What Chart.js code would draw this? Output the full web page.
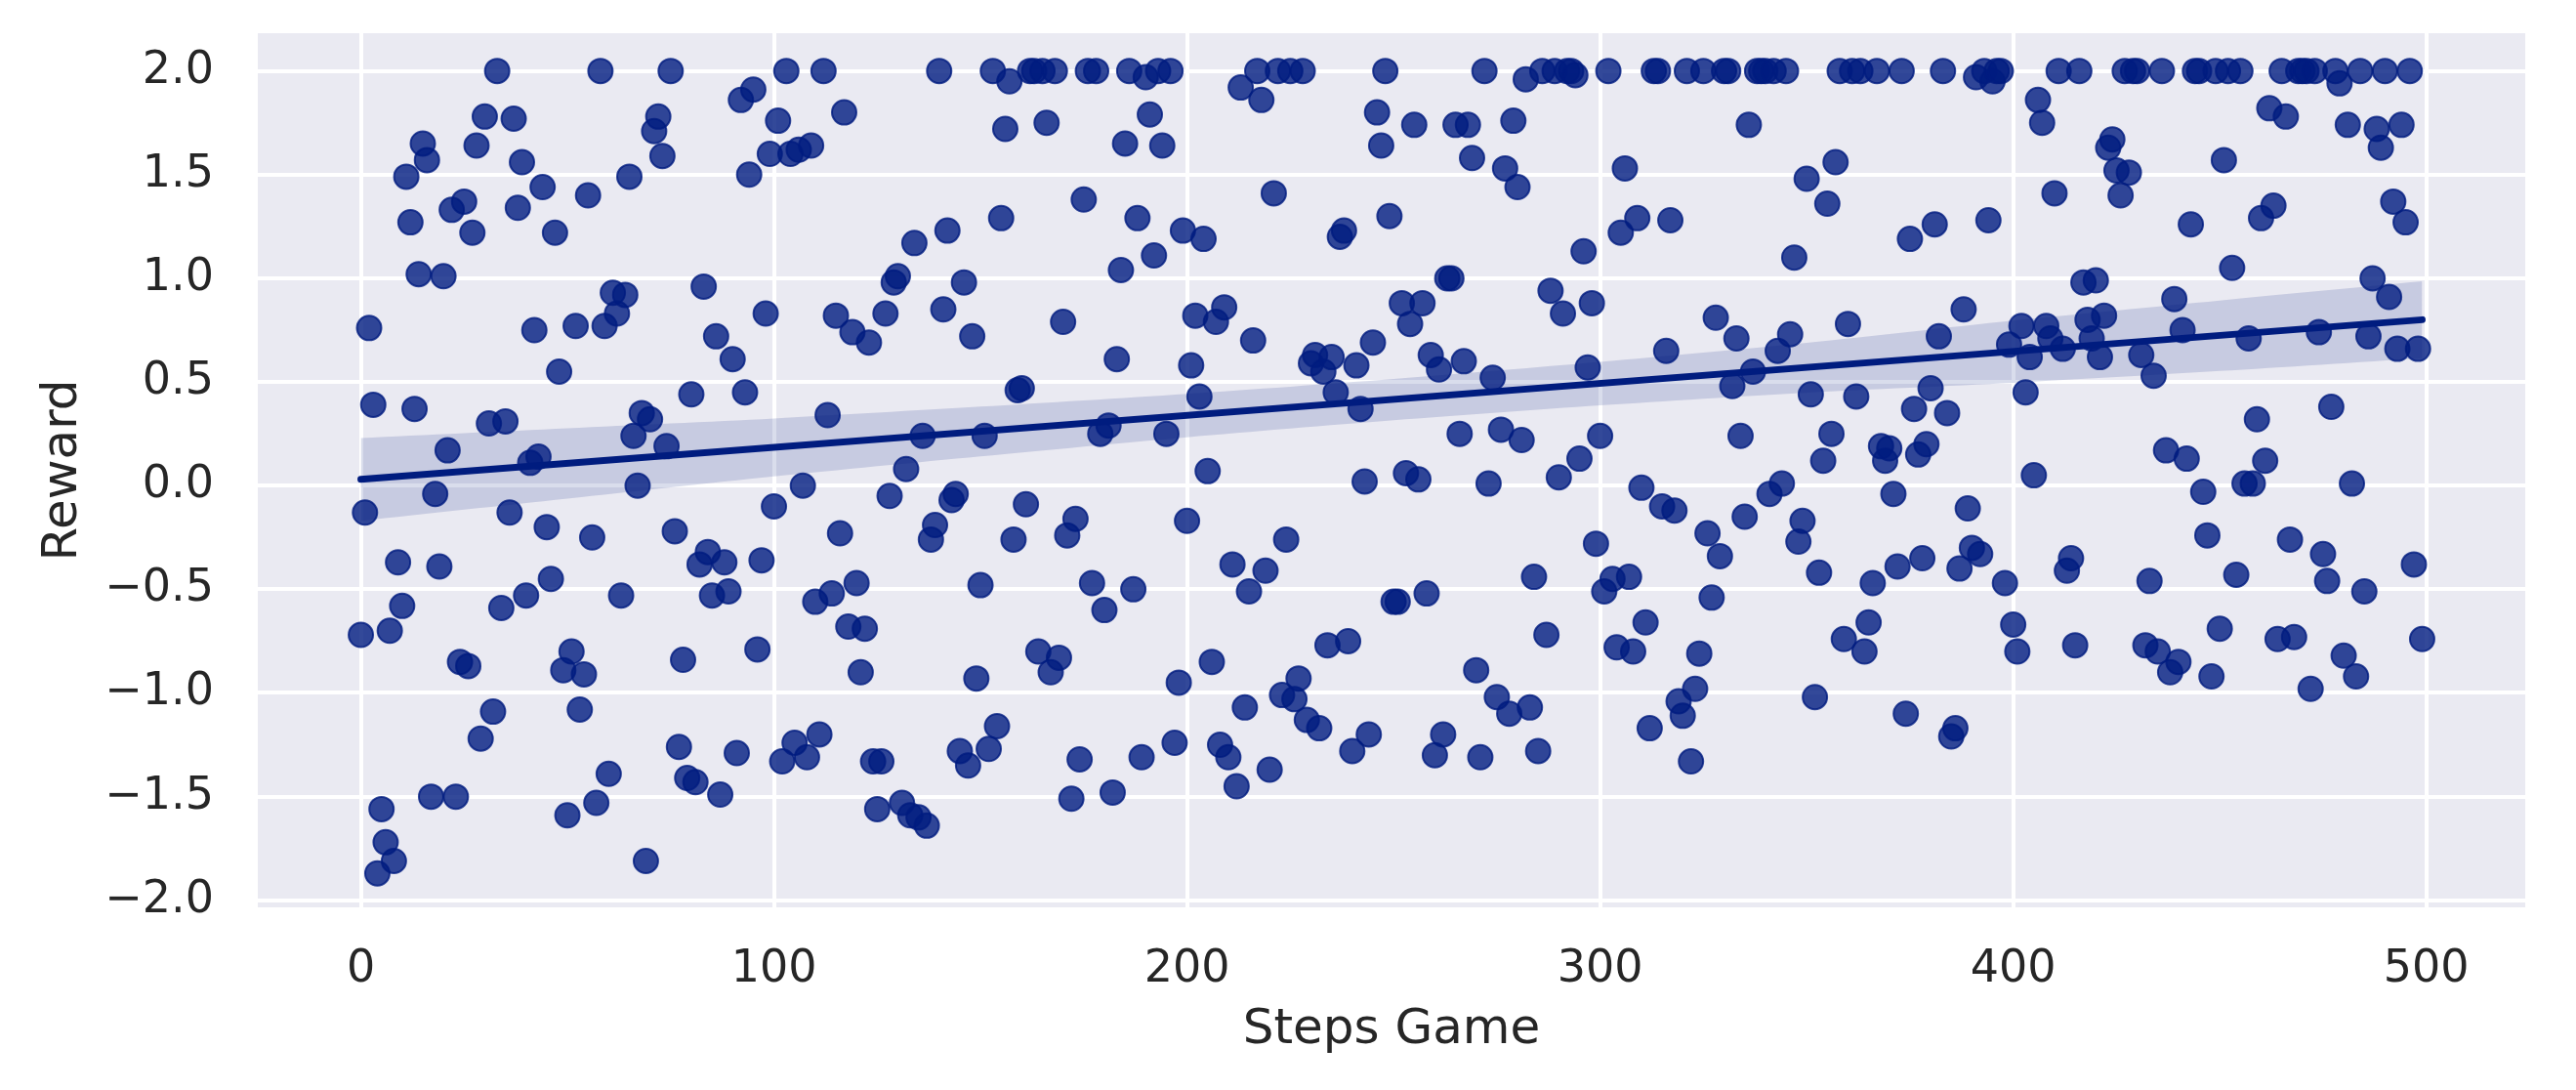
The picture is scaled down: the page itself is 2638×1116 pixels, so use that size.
<!DOCTYPE html>
<html>
<head>
<meta charset="utf-8">
<script src="https://cdn.jsdelivr.net/npm/chart.js@4/dist/chart.umd.min.js"></script>
<style>
    html, body { margin: 0; padding: 0; background: #ffffff; }
    canvas { display: block; }
</style>
</head>
<body>
<canvas id="regChart" width="2638" height="1116"></canvas>
<script>
// reward per game step (step = index)
var rewards = [
    -0.72, -0.13, 0.76, 0.39, -1.87, -1.56, -1.72, -0.70, -1.81, -0.37,
    -0.58, 1.49, 1.27, 0.37, 1.02, 1.65, 1.57, -1.50, -0.04, -0.39,
    1.01, 0.17, 1.33, -1.50, -0.85, 1.37, -0.87, 1.22, 1.64, -1.22,
    1.78, 0.30, -1.09, 2.00, -0.59, 0.31, -0.13, 1.77, 1.34, 1.56,
    -0.53, 0.11, 0.75, 0.14, 1.44, -0.20, -0.45, 1.22, 0.55, -0.89,
    -1.59, -0.80, 0.77, -1.08, -0.91, 1.40, -0.25, -1.53, 2.00, 0.77,
    -1.39, 0.93, 0.83, -0.53, 0.92, 1.49, 0.24, 0.00, 0.35, -1.81,
    0.32, 1.71, 1.78, 1.59, 0.19, 2.00, -0.22, -1.26, -0.84, -1.41,
    0.44, -1.43, -0.38, 0.96, -0.32, -0.53, 0.72, -1.49, -0.37, -0.51,
    0.61, -1.29, 1.86, 0.45, 1.50, 1.91, -0.79, -0.36, 0.83, 1.60,
    -0.10, 1.76, -1.33, 2.00, 1.60, -1.24, 1.62, 0.00, -1.31, 1.64,
    -0.56, -1.20, 2.00, 0.34, -0.52, 0.82, -0.23, 1.80, -0.68, 0.74,
    -0.47, -0.90, -0.69, 0.69, -1.33, -1.56, -1.33, 0.83, -0.05, 0.98,
    1.01, -1.53, 0.08, -1.59, 1.17, -1.60, 0.24, -1.64, -0.26, -0.19,
    2.00, 0.85, 1.23, -0.07, -0.04, -1.28, 0.98, -1.35, 0.72, -0.93,
    -0.48, 0.24, -1.27, 2.00, -1.16, 1.29, 1.72, 1.95, -0.26, 0.46,
    0.47, -0.09, 2.00, 2.00, -0.80, 2.00, 1.75, -0.90, 2.00, -0.83,
    0.79, -0.24, -1.51, -0.16, -1.32, 1.38, 2.00, -0.47, 2.00, 0.25,
    -0.60, 0.29, -1.48, 0.61, 1.04, 1.65, 2.00, -0.50, 1.29, -1.31,
    1.97, 1.79, 1.11, 2.00, 1.64, 0.25, 2.00, -1.24, -0.95, 1.23,
    -0.17, 0.58, 0.82, 0.43, 1.19, 0.07, -0.85, 0.79, -1.25, 0.86,
    -1.31, -0.38, -1.45, 1.92, -1.07, -0.51, 0.70, 2.00, 1.86, -0.41,
    -1.37, 1.41, 2.00, -1.01, -0.26, 2.00, -1.03, -0.93, 2.00, -1.13,
    0.59, 0.63, -1.17, 0.55, -0.77, 0.62, 0.45, 1.20, 1.23, -0.75,
    -1.28, 0.58, 0.37, 0.02, -1.20, 0.69, 1.80, 1.64, 2.00, 1.30,
    -0.56, -0.56, 0.88, 0.06, 0.78, 1.74, 0.03, 0.88, -0.52, 0.63,
    -1.30, 0.56, -1.20, 1.00, 1.00, 1.74, 0.25, 0.60, 1.74, 1.58,
    -0.89, -1.31, 2.00, 0.01, 0.52, -1.02, 0.27, 1.53, -1.10, 1.76,
    1.44, 0.22, 1.96, -1.07, -0.44, -1.28, 2.00, -0.72, 0.94, 2.00,
    0.04, 0.83, 2.00, 2.00, 1.98, 0.13, 1.13, 0.57, 0.88, -0.28,
    0.24, -0.51, 2.00, -0.45, -0.78, 1.22, 1.53, -0.44, -0.80, 1.29,
    -0.01, -0.66, -1.17, 2.00, 2.00, -0.10, 0.65, 1.28, -0.12, -1.04,
    -1.11, 2.00, -1.33, -0.98, -0.81, 2.00, -0.23, -0.54, 0.81, -0.34,
    2.00, 2.00, 0.48, 0.71, 0.24, -0.15, 1.74, 0.55, 2.00, 2.00,
    2.00, -0.04, 2.00, 0.65, 0.01, 2.00, 0.73, 1.10, -0.27, -0.17,
    1.48, 0.44, -1.02, -0.42, 0.12, 1.36, 0.25, 1.56, 2.00, -0.74,
    0.78, 2.00, 0.43, 2.00, -0.80, -0.66, -0.47, 2.00, 0.19, 0.12,
    0.18, -0.04, -0.39, 2.00, -1.10, 1.19, 0.37, 0.15, -0.35, 0.20,
    0.47, 1.26, 0.72, 2.00, 0.35, -1.21, -1.17, -0.40, 0.85, -0.11,
    -0.30, 1.97, -0.33, 2.00, 1.28, 1.95, 2.00, 2.00, -0.47, 0.68,
    -0.67, -0.80, 0.77, 0.45, 0.62, 0.05, 1.86, 1.75, 0.77, 0.71,
    1.41, 2.00, 0.66, -0.41, -0.35, -0.77, 2.00, 0.98, 0.80, 0.71,
    0.99, 0.62, 0.82, 1.63, 1.67, 1.52, 1.40, 2.00, 1.51, 2.00,
    2.00, 0.63, -0.77, -0.46, 0.53, -0.80, 2.00, 0.17, -0.90, 0.90,
    -0.85, 0.75, 0.13, 1.26, 2.00, 2.00, -0.03, -0.24, -0.92, 2.00,
    -0.69, 1.57, 2.00, 1.05, -0.43, 2.00, 0.01, 0.71, 0.01, 0.32,
    1.29, 0.12, 1.82, 1.35, -0.74, 2.00, 1.78, -0.26, -0.73, 2.00,
    2.00, 2.00, -0.98, 2.00, 0.74, -0.33, -0.46, 0.38, 2.00, 1.94,
    -0.82, 1.74, 0.01, -0.92, 2.00, -0.51, 0.72, 1.00, 1.72, 1.63,
    2.00, 0.91, 1.37, 0.66, 1.74, 1.27, 2.00, -0.38, 0.66, -0.74
];

// fitted line and 95% band
var fitSteps = [0, 499];
var fitValues = [0.03, 0.80];
var bandSteps = [0, 50, 100, 150, 200, 250, 300, 350, 400, 450, 499];
var bandUpper = [0.23, 0.277, 0.324, 0.381, 0.443, 0.515, 0.597, 0.689, 0.796, 0.893, 0.985];
var bandLower = [-0.17, -0.063, 0.044, 0.141, 0.233, 0.315, 0.387, 0.449, 0.496, 0.553, 0.615];

var xTicks = [0, 100, 200, 300, 400, 500];
var xTickLabels = ['0', '100', '200', '300', '400', '500'];
var yTicks = [-2.0, -1.5, -1.0, -0.5, 0.0, 0.5, 1.0, 1.5, 2.0];
var yTickLabels = ['\u22122.0', '\u22121.5', '\u22121.0', '\u22120.5', '0.0', '0.5', '1.0', '1.5', '2.0'];

var azul = '#001c7f';
var corTexto = '#262626';

function pares(xs, ys) {
    var out = [];
    for (var i = 0; i < xs.length; i++) {
        out.push({ x: xs[i], y: ys[i] });
    }
    return out;
}

var pontos = [];
for (var i = 0; i < rewards.length; i++) {
    pontos.push({ x: i, y: rewards[i] });
}

var fundoArea = {
    id: 'fundoArea',
    beforeDraw: function(chart) {
        var c = chart.ctx;
        var a = chart.chartArea;
        c.save();
        c.fillStyle = '#ffffff';
        c.fillRect(0, 0, chart.width, chart.height);
        c.fillStyle = '#eaeaf2';
        c.fillRect(a.left, a.top, a.right - a.left, a.bottom - a.top);
        c.restore();
    }
};

var ctx = document.getElementById('regChart').getContext('2d');

new Chart(ctx, {
    type: 'scatter',
    data: {
        datasets: [
            {
                type: 'line',
                label: 'fit',
                data: pares(fitSteps, fitValues),
                borderColor: azul,
                borderWidth: 7,
                borderCapStyle: 'round',
                pointRadius: 0,
                fill: false,
                order: 0
            },
            {
                type: 'line',
                label: 'ci upper',
                data: pares(bandSteps, bandUpper),
                borderWidth: 0,
                borderColor: 'rgba(0,0,0,0)',
                backgroundColor: 'rgba(0, 28, 127, 0.15)',
                pointRadius: 0,
                tension: 0.3,
                fill: '+1',
                order: 1
            },
            {
                type: 'line',
                label: 'ci lower',
                data: pares(bandSteps, bandLower),
                borderWidth: 0,
                borderColor: 'rgba(0,0,0,0)',
                pointRadius: 0,
                tension: 0.3,
                fill: false,
                order: 1
            },
            {
                label: 'Reward',
                data: pontos,
                backgroundColor: 'rgba(0, 28, 127, 0.8)',
                borderColor: 'rgba(0, 28, 127, 0.8)',
                borderWidth: 2,
                pointRadius: 12.5,
                order: 2
            }
        ]
    },
    options: {
        responsive: false,
        animation: false,
        layout: { padding: { left: 0, right: 52, top: 34, bottom: 0 } },
        plugins: {
            legend: { display: false },
            tooltip: { enabled: false }
        },
        scales: {
            x: {
                type: 'linear',
                min: -24.95,
                max: 523.95,
                afterBuildTicks: function(scale) {
                    scale.ticks = xTicks.map(function(v) { return { value: v }; });
                },
                afterFit: function(scale) {
                    scale.height = 1116 - 929;
                    scale.paddingLeft = 0;
                    scale.paddingRight = 0;
                },
                grid: { color: '#ffffff', lineWidth: 4, drawTicks: false },
                border: { display: false },
                ticks: {
                    padding: 36,
                    color: corTexto,
                    font: { family: "'DejaVu Sans', sans-serif", size: 46 },
                    callback: function(v) { return xTickLabels[xTicks.indexOf(v)]; }
                },
                title: {
                    display: true,
                    text: 'Steps Game',
                    color: corTexto,
                    font: { family: "'DejaVu Sans', sans-serif", size: 50 },
                    padding: { top: 0, bottom: 31 }
                }
            },
            y: {
                type: 'linear',
                min: -2.034,
                max: 2.182,
                afterBuildTicks: function(scale) {
                    scale.ticks = yTicks.map(function(v) { return { value: v }; });
                },
                afterFit: function(scale) {
                    scale.width = 264;
                    scale.paddingTop = 0;
                    scale.paddingBottom = 0;
                },
                grid: { color: '#ffffff', lineWidth: 4, drawTicks: false },
                border: { display: false },
                ticks: {
                    padding: 45,
                    color: corTexto,
                    font: { family: "'DejaVu Sans', sans-serif", size: 46 },
                    callback: function(v) { return yTickLabels[yTicks.indexOf(v)]; }
                },
                title: {
                    display: true,
                    text: 'Reward',
                    color: corTexto,
                    font: { family: "'DejaVu Sans', sans-serif", size: 50 },
                    padding: { top: 35, bottom: 0 }
                }
            }
        }
    },
    plugins: [fundoArea]
});
</script>
</body>
</html>
